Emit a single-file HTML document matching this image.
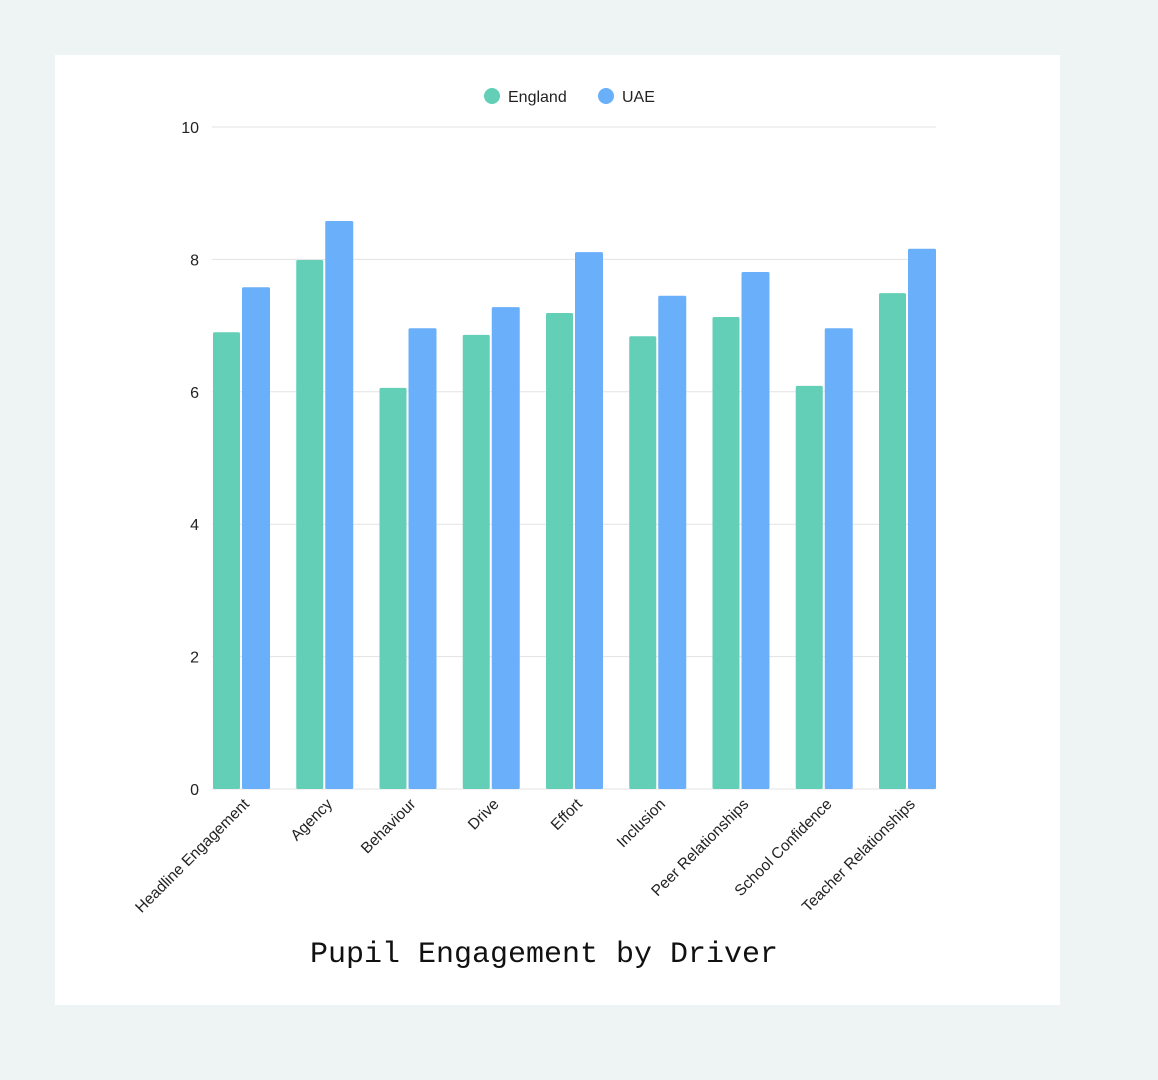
<!DOCTYPE html>
<html><head><meta charset="utf-8"><style>
html,body{margin:0;padding:0;}
body{width:1158px;height:1080px;background:#eef4f3;position:relative;overflow:hidden;font-family:"Liberation Sans",sans-serif;}
#card{position:absolute;left:55px;top:55px;width:1005px;height:950px;background:#fff;}
svg{position:absolute;left:0;top:0;}
</style></head><body>
<div id="card"></div>
<svg id="chart" width="1158" height="1080"></svg>
<script>
const categories=["Headline Engagement","Agency","Behaviour","Drive","Effort","Inclusion","Peer Relationships","School Confidence","Teacher Relationships"];
const england=[6.90,7.99,6.06,6.86,7.19,6.84,7.13,6.09,7.49];
const uae=[7.58,8.58,6.96,7.28,8.11,7.45,7.81,6.96,8.16];
const yTicks=[0,2,4,6,8,10];
const NS="http://www.w3.org/2000/svg";
const svg=document.getElementById('chart');
const x0=212,x1=936,yTop=127,yBot=789,yMax=10;
const y=v=>yBot-(v/yMax)*(yBot-yTop);
const groupW=58;
const gw=(x1-x0-groupW)/(categories.length-1);
function mk(t,a){const e=document.createElementNS(NS,t);for(const k in a)e.setAttribute(k,a[k]);svg.appendChild(e);return e;}
yTicks.forEach(t=>{
  const l=mk('line',{x1:x0,x2:x1,y1:y(t),y2:y(t),stroke:'#e3e3e3','stroke-width':1});
  
  
  const tx=mk('text',{x:199,y:y(t)+6,'text-anchor':'end','font-size':16,fill:'#222'});
  tx.textContent=t;
  
  
});
categories.forEach((c,i)=>{
  const gx=x0+i*gw;
  const b1=mk('rect',{x:gx+1,y:y(england[i]),width:27,height:yBot-y(england[i]),fill:'#62cfb6',rx:1.5});
  
  
  const b2=mk('rect',{x:gx+30,y:y(uae[i]),width:28,height:yBot-y(uae[i]),fill:'#6aaff9',rx:1.5});
  
  
  const cx=gx+38;
  const t=mk('text',{x:cx,y:yBot+16,'text-anchor':'end','font-size':15.5,fill:'#222',transform:`rotate(-45 ${cx} ${yBot+16})`});
  t.textContent=c;
  
  
});
const lg=[["England","#62cfb6",492,508],["UAE","#6aaff9",606,622]];
lg.forEach(([n,col,cx,tx])=>{
  const c=mk('circle',{cx:cx,cy:96,r:8,fill:col});
  
  
  const t=mk('text',{x:tx,y:102,'font-size':16,fill:'#222'});
  t.textContent=n;
  
  
});
const title=mk('text',{x:544,y:962,'text-anchor':'middle','font-size':30,fill:'#111','font-family':'Liberation Mono, monospace'});
title.textContent='Pupil Engagement by Driver';


</script>
</body></html>
